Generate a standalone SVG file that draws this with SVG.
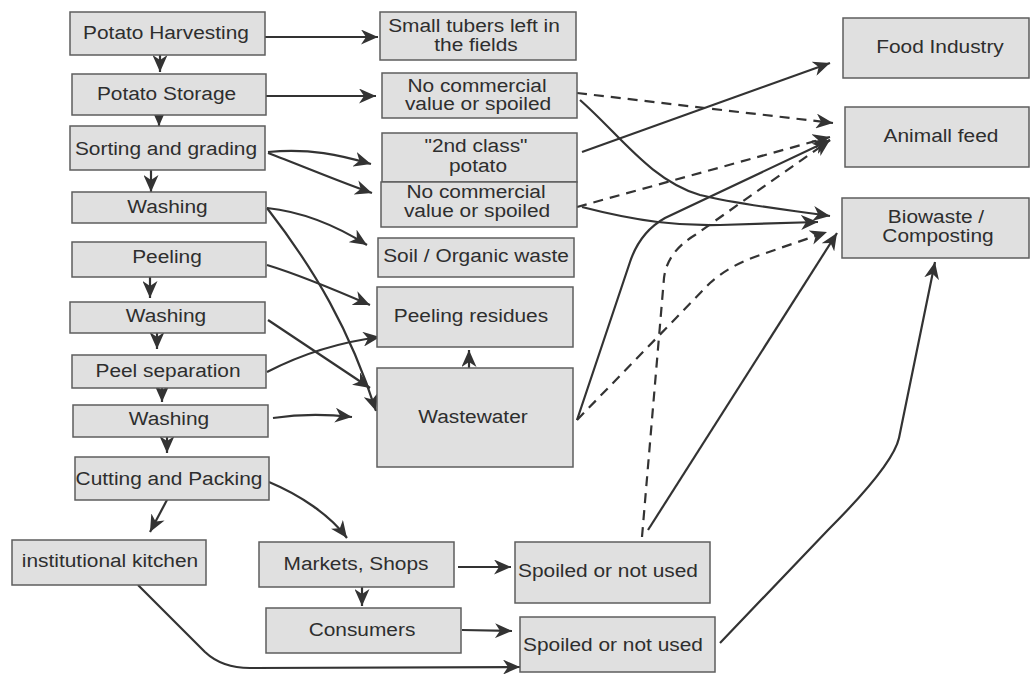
<svg xmlns="http://www.w3.org/2000/svg" width="1033" height="674" viewBox="0 0 1033 674">
<style>
.box{fill:#e0e0e0;stroke:#5e5e5e;stroke-width:1.5}
.t{font-family:"Liberation Sans",Arial,sans-serif;font-size:18px;fill:#2e2e2e;text-anchor:middle}
.c{fill:none;stroke:#333;stroke-width:2.2;marker-end:url(#ah)}
.d{fill:none;stroke:#333;stroke-width:2.2;stroke-dasharray:10 7;marker-end:url(#ah)}
</style>
<defs>
<marker id="ah" markerUnits="userSpaceOnUse" markerWidth="18" markerHeight="15" refX="17" refY="7.5" orient="auto" viewBox="0 0 18 15">
<path d="M0,0 L17,7.5 L0,15 L5,7.5 z" fill="#333" stroke="none"/>
</marker>
</defs>
<rect width="1033" height="674" fill="#fff"/>

<g id="connectors">
<path class="c" d="M160,55 L160,72"/>
<path class="c" d="M159,115 L159,126"/>
<path class="c" d="M151,165 L151,192"/>
<path class="c" d="M150,263 L150,298"/>
<path class="c" d="M157,333 L157,349"/>
<path class="c" d="M162,388 L162,402"/>
<path class="c" d="M167,437 L167,453"/>
<path class="c" d="M168,498 L150,532"/>
<path class="c" d="M265,37 L378,37"/>
<path class="c" d="M266,96 L376,96"/>
<path class="c" d="M268,152 C310,148 340,155 371,164"/>
<path class="c" d="M268,153 C300,165 340,182 372,193"/>
<path class="c" d="M267,208 C305,212 340,228 367,245"/>
<path class="c" d="M267,208 C315,270 350,330 376,411"/>
<path class="c" d="M267,265 C300,275 340,292 370,305"/>
<path class="c" d="M268,320 L370,388"/>
<path class="c" d="M267,372 C300,355 340,342 380,337"/>
<path class="c" d="M273,418 C300,414 325,414 352,417"/>
<path class="c" d="M469,368 L469,350"/>
<path class="c" d="M269,482 C300,495 330,515 347,538"/>
<path class="c" d="M458,567 L511,567"/>
<path class="c" d="M362,587 L362,606"/>
<path class="c" d="M462,630 L512,631"/>
<path class="c" d="M138,585 L205,652 Q222,668 250,668 L520,667"/>
<path class="c" d="M582,152 L830,63"/>
<path class="d" d="M577,93 L833,123"/>
<path class="c" d="M580,100 C620,135 650,180 700,195 C740,205 790,210 830,216"/>
<path class="d" d="M577,207 L830,137"/>
<path class="c" d="M582,207 C640,222 680,226 720,225 L818,222"/>
<path class="c" d="M577,420 L630,262 Q640,232 665,218 L830,140"/>
<path class="d" d="M577,420 L710,283 Q730,265 760,255 L827,232"/>
<path class="d" d="M642,537 L664,278 Q667,252 695,235 L830,140"/>
<path class="c" d="M648,530 L837,233"/>
<path class="c" d="M720,643 L828,530 Q893,465 899,438 L935,262"/>
</g>

<g id="n-harvest"><rect class="box" x="70" y="12" width="195" height="43"/><text class="t" transform="matrix(1.16,0,0,1,166,39)">Potato Harvesting</text></g>
<g id="n-storage"><rect class="box" x="72" y="74" width="194" height="41"/><text class="t" transform="matrix(1.16,0,0,1,166.5,100)">Potato Storage</text></g>
<g id="n-sorting"><rect class="box" x="70" y="126" width="195" height="44"/><text class="t" transform="matrix(1.16,0,0,1,166,155)">Sorting and grading</text></g>
<g id="n-washing1"><rect class="box" x="72" y="192" width="194" height="31"/><text class="t" transform="matrix(1.16,0,0,1,167.5,213)">Washing</text></g>
<g id="n-peeling"><rect class="box" x="72" y="242" width="194" height="35"/><text class="t" transform="matrix(1.16,0,0,1,167,263)">Peeling</text></g>
<g id="n-washing2"><rect class="box" x="70" y="302" width="195" height="31"/><text class="t" transform="matrix(1.16,0,0,1,166,322)">Washing</text></g>
<g id="n-peelsep"><rect class="box" x="72" y="355" width="194" height="33"/><text class="t" transform="matrix(1.16,0,0,1,168,377)">Peel separation</text></g>
<g id="n-washing3"><rect class="box" x="73" y="405" width="195" height="32"/><text class="t" transform="matrix(1.16,0,0,1,169,425)">Washing</text></g>
<g id="n-cutting"><rect class="box" x="75" y="457" width="194" height="43"/><text class="t" transform="matrix(1.16,0,0,1,169,485)">Cutting and Packing</text></g>
<g id="n-kitchen"><rect class="box" x="12" y="540" width="194" height="45"/><text class="t" transform="matrix(1.16,0,0,1,110,567)">institutional kitchen</text></g>

<g id="n-tubers"><rect class="box" x="380" y="12" width="196" height="48"/><text class="t" transform="matrix(1.16,0,0,1,474,32)">Small tubers left in</text><text class="t" transform="matrix(1.16,0,0,1,476,51)">the fields</text></g>
<g id="n-nocom1"><rect class="box" x="382" y="73" width="195" height="45"/><text class="t" transform="matrix(1.16,0,0,1,477,92)">No commercial</text><text class="t" transform="matrix(1.16,0,0,1,478,110)">value or spoiled</text></g>
<g id="n-second"><rect class="box" x="382" y="133" width="195" height="49"/><text class="t" transform="matrix(1.16,0,0,1,476,152)">"2nd class"</text><text class="t" transform="matrix(1.16,0,0,1,478,172)">potato</text></g>
<g id="n-nocom2"><rect class="box" x="381" y="182" width="196" height="45"/><text class="t" transform="matrix(1.16,0,0,1,476,198)">No commercial</text><text class="t" transform="matrix(1.16,0,0,1,477,217)">value or spoiled</text></g>
<g id="n-soil"><rect class="box" x="378" y="238" width="196" height="39"/><text class="t" transform="matrix(1.16,0,0,1,476,262)">Soil / Organic waste</text></g>
<g id="n-peelres"><rect class="box" x="377" y="287" width="196" height="60"/><text class="t" transform="matrix(1.16,0,0,1,471,322)">Peeling residues</text></g>
<g id="n-wastewater"><rect class="box" x="377" y="368" width="196" height="99"/><text class="t" transform="matrix(1.16,0,0,1,473,423)">Wastewater</text></g>
<g id="n-markets"><rect class="box" x="259" y="542" width="195" height="45"/><text class="t" transform="matrix(1.16,0,0,1,356,570)">Markets, Shops</text></g>
<g id="n-consumers"><rect class="box" x="266" y="608" width="195" height="45"/><text class="t" transform="matrix(1.16,0,0,1,362,636)">Consumers</text></g>
<g id="n-spoiled1"><rect class="box" x="515" y="542" width="195" height="61"/><text class="t" transform="matrix(1.16,0,0,1,608,577)">Spoiled or not used</text></g>
<g id="n-spoiled2"><rect class="box" x="520" y="617" width="195" height="55"/><text class="t" transform="matrix(1.16,0,0,1,613,651)">Spoiled or not used</text></g>

<g id="n-food"><rect class="box" x="843" y="18" width="186" height="60"/><text class="t" transform="matrix(1.16,0,0,1,940,53)">Food Industry</text></g>
<g id="n-feed"><rect class="box" x="845" y="107" width="184" height="60"/><text class="t" transform="matrix(1.16,0,0,1,941,142)">Animall feed</text></g>
<g id="n-bio"><rect class="box" x="842" y="198" width="187" height="60"/><text class="t" transform="matrix(1.16,0,0,1,936,223)">Biowaste /</text><text class="t" transform="matrix(1.16,0,0,1,938,242)">Composting</text></g>
</svg>
